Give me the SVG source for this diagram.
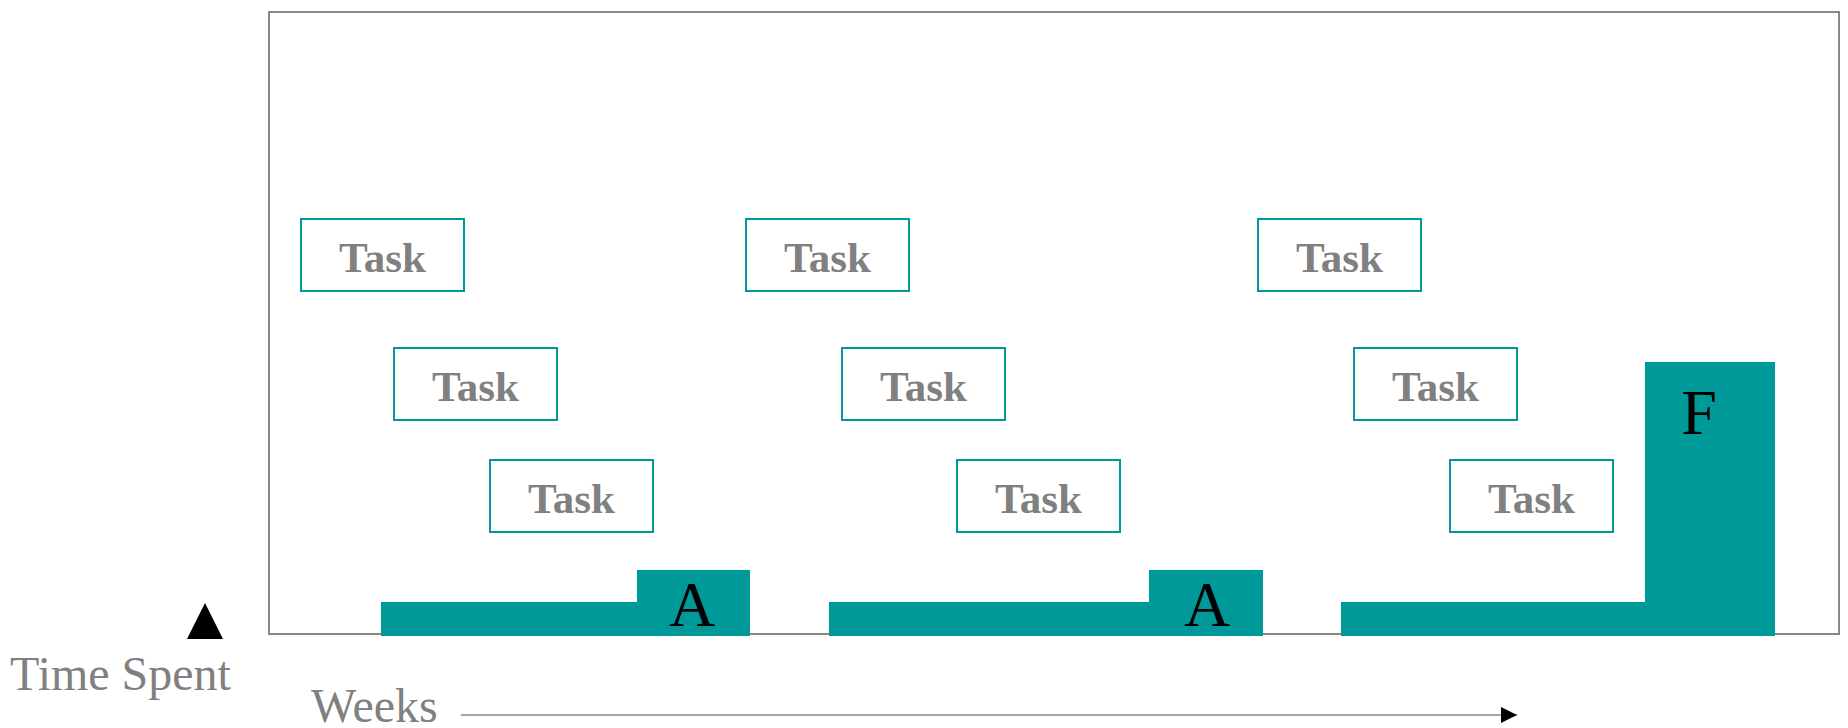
<svg xmlns="http://www.w3.org/2000/svg" width="1848" height="728" viewBox="0 0 1848 728">
  <style>
    .task rect { fill: #ffffff; stroke: #009999; stroke-width: 2; }
    .task text { font-family: "Liberation Serif", "Times New Roman", serif; font-weight: bold; font-size: 43px; fill: #808080; text-anchor: middle; }
    .bar { fill: #009999; }
    .lbl { font-family: "Liberation Serif", "Times New Roman", serif; font-size: 64px; fill: #000000; text-anchor: middle; }
    .axis { font-family: "Liberation Serif", "Times New Roman", serif; font-size: 48px; fill: #808080; }
  </style>
  <defs>
    <marker id="arrow" markerWidth="16" markerHeight="16" refX="16" refY="8" orient="auto" markerUnits="userSpaceOnUse">
      <path d="M0,0 L16,8 L0,16 Z" fill="#000000"/>
    </marker>
  </defs>
  <rect width="1848" height="728" fill="#ffffff"/>
  <g id="frame">
    <rect x="269" y="12" width="1570" height="622" fill="none" stroke="#888888" stroke-width="2"/>
  </g>
  <g id="task-1-1" class="task"><rect x="301" y="219" width="163" height="72"/><text x="382.5" y="272">Task</text></g>
  <g id="task-1-2" class="task"><rect x="394" y="348" width="163" height="72"/><text x="475.5" y="401">Task</text></g>
  <g id="task-1-3" class="task"><rect x="490" y="460" width="163" height="72"/><text x="571.5" y="513">Task</text></g>
  <g id="task-2-1" class="task"><rect x="746" y="219" width="163" height="72"/><text x="827.5" y="272">Task</text></g>
  <g id="task-2-2" class="task"><rect x="842" y="348" width="163" height="72"/><text x="923.5" y="401">Task</text></g>
  <g id="task-2-3" class="task"><rect x="957" y="460" width="163" height="72"/><text x="1038.5" y="513">Task</text></g>
  <g id="task-3-1" class="task"><rect x="1258" y="219" width="163" height="72"/><text x="1339.5" y="272">Task</text></g>
  <g id="task-3-2" class="task"><rect x="1354" y="348" width="163" height="72"/><text x="1435.5" y="401">Task</text></g>
  <g id="task-3-3" class="task"><rect x="1450" y="460" width="163" height="72"/><text x="1531.5" y="513">Task</text></g>
  <g id="bars-1">
    <path class="bar" d="M381,602 H637 V570 H750 V636 H381 Z"/>
    <text class="lbl" x="692" y="626">A</text>
  </g>
  <g id="bars-2">
    <path class="bar" d="M829,602 H1149 V570 H1263 V636 H829 Z"/>
    <text class="lbl" x="1207" y="626">A</text>
  </g>
  <g id="bars-3">
    <path class="bar" d="M1341,602 H1645 V362 H1775 V636 H1341 Z"/>
    <text class="lbl" x="1699" y="434">F</text>
  </g>
  <g id="time-axis">
    <polygon points="205,603 187,639 223,639" fill="#000000"/>
    <text class="axis" x="10" y="690">Time Spent</text>
  </g>
  <g id="connectors">
    <text class="axis" x="311" y="722">Weeks</text>
    <line x1="461" y1="715" x2="1517" y2="715" stroke="#888888" stroke-width="1.5" marker-end="url(#arrow)"/>
  </g>
</svg>
